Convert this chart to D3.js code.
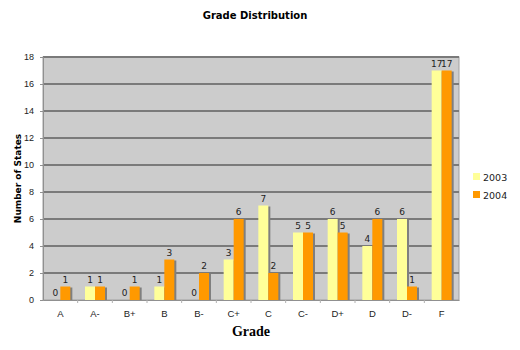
<!DOCTYPE html>
<html>
<head>
<meta charset="utf-8">
<script src="https://cdn.jsdelivr.net/npm/d3@7"></script>
<style>
  html, body { margin: 0; padding: 0; background: #fff; }
  svg { display: block; font-family: "DejaVu Sans", Verdana, sans-serif; }
</style>
</head>
<body>
<svg id="chart" width="520" height="350"></svg>
<script>
// Grades awarded to states, two survey years
const grades = ["A", "A-", "B+", "B", "B-", "C+", "C", "C-", "D+", "D", "D-", "F"];
const years = ["2003", "2004"];
const values2003 = [0, 1, 0, 1, 0, 3, 7, 5, 6, 4, 6, 17];
const values2004 = [1, 1, 1, 3, 2, 6, 2, 5, 5, 6, 1, 17];
const yTicks = [0, 2, 4, 6, 8, 10, 12, 14, 16, 18];
const colors = ["#ffff99", "#ff9900"];

const series = [values2003, values2004];

const svg = d3.select("#chart");
const margin = { left: 43, right: 61, top: 57, bottom: 50 };
const W = 520, H = 350;
const plotW = W - margin.left - margin.right;
const plotH = H - margin.top - margin.bottom;

const x = d3.scaleBand().domain(grades).range([0, plotW]).paddingInner(0).paddingOuter(0);
const xi = d3.scaleBand().domain(years).range([0, 20]);
const y = d3.scaleLinear().domain([0, 18]).range([plotH, 0]);

const g = svg.append("g").attr("transform", `translate(${margin.left},${margin.top})`);

// plot background
g.append("rect")
  .attr("x", 0).attr("y", 0).attr("width", plotW).attr("height", plotH)
  .attr("fill", "#cccccc").attr("stroke", "#a0a0a0").attr("stroke-width", 1);

// horizontal gridlines
g.append("g").selectAll("line")
  .data(yTicks.filter(d => d > 0))
  .join("line")
  .attr("x1", 0).attr("x2", plotW)
  .attr("y1", d => y(d)).attr("y2", d => y(d))
  .attr("stroke", "#7a7a7a").attr("stroke-width", 2);

// y axis
const yAxis = d3.axisLeft(y).tickValues(yTicks).tickSize(3).tickPadding(6);
const ya = g.append("g").call(yAxis);
ya.select(".domain").attr("stroke", "#909090");
ya.selectAll(".tick line").attr("stroke", "#909090");
ya.selectAll("text").attr("font-size", 9).attr("fill", "#222");

// x axis
const xAxis = d3.axisBottom(x).tickSizeOuter(0).tickSize(0).tickPadding(10);
const xa = g.append("g").attr("transform", `translate(0,${plotH})`).call(xAxis);
xa.select(".domain").attr("stroke", "#909090");
xa.selectAll("text").attr("font-size", 9.5).attr("fill", "#222");
// small separators between categories
xa.selectAll(".sep")
  .data(grades.slice(1))
  .join("line")
  .attr("class", "sep")
  .attr("x1", d => x(d)).attr("x2", d => x(d))
  .attr("y1", 0).attr("y2", 3)
  .attr("stroke", "#b0b0b0");

const barW = 10;
const groups = g.append("g").selectAll("g")
  .data(grades)
  .join("g")
  .attr("transform", d => `translate(${x(d) + x.bandwidth() / 2 - barW},0)`);

years.forEach((yr, si) => {
  const vals = series[si];
  // shadow
  groups.append("rect")
    .attr("x", si * barW + 2)
    .attr("y", (d, i) => y(vals[i]) + 1)
    .attr("width", barW)
    .attr("height", (d, i) => Math.max(0, plotH - y(vals[i]) - 1))
    .attr("fill", "#7f7f7f");
});
years.forEach((yr, si) => {
  const vals = series[si];
  groups.append("rect")
    .attr("x", si * barW)
    .attr("y", (d, i) => y(vals[i]))
    .attr("width", barW)
    .attr("height", (d, i) => plotH - y(vals[i]))
    .attr("fill", colors[si]);
  groups.append("text")
    .attr("x", si * barW + barW / 2)
    .attr("y", (d, i) => y(vals[i]) - 4)
    .attr("text-anchor", "middle")
    .attr("font-size", 9)
    .attr("fill", "#222")
    .text((d, i) => vals[i]);
});

// title
svg.append("text")
  .attr("x", 255).attr("y", 19)
  .attr("text-anchor", "middle")
  .attr("font-size", 10).attr("font-weight", "bold")
  .text("Grade Distribution");

// y axis title
svg.append("text")
  .attr("transform", `translate(21,${margin.top + plotH / 2}) rotate(-90)`)
  .attr("text-anchor", "middle")
  .attr("font-size", 9).attr("font-weight", "bold")
  .text("Number of States");

// x axis title
svg.append("text")
  .attr("x", margin.left + plotW / 2).attr("y", 336)
  .attr("text-anchor", "middle")
  .attr("font-family", "'Liberation Serif', 'Times New Roman', serif")
  .attr("font-size", 14).attr("font-weight", "bold")
  .text("Grade");

// legend
const legend = svg.append("g").attr("transform", "translate(473,173)");
years.forEach((yr, i) => {
  const row = legend.append("g").attr("transform", `translate(0,${i * 18})`);
  row.append("rect").attr("x", 0).attr("y", 0).attr("width", 7).attr("height", 7).attr("fill", colors[i]);
  row.append("text").attr("x", 10).attr("y", 7.5).attr("font-size", 9.5).attr("fill", "#222").text(yr);
});
</script>
</body>
</html>
